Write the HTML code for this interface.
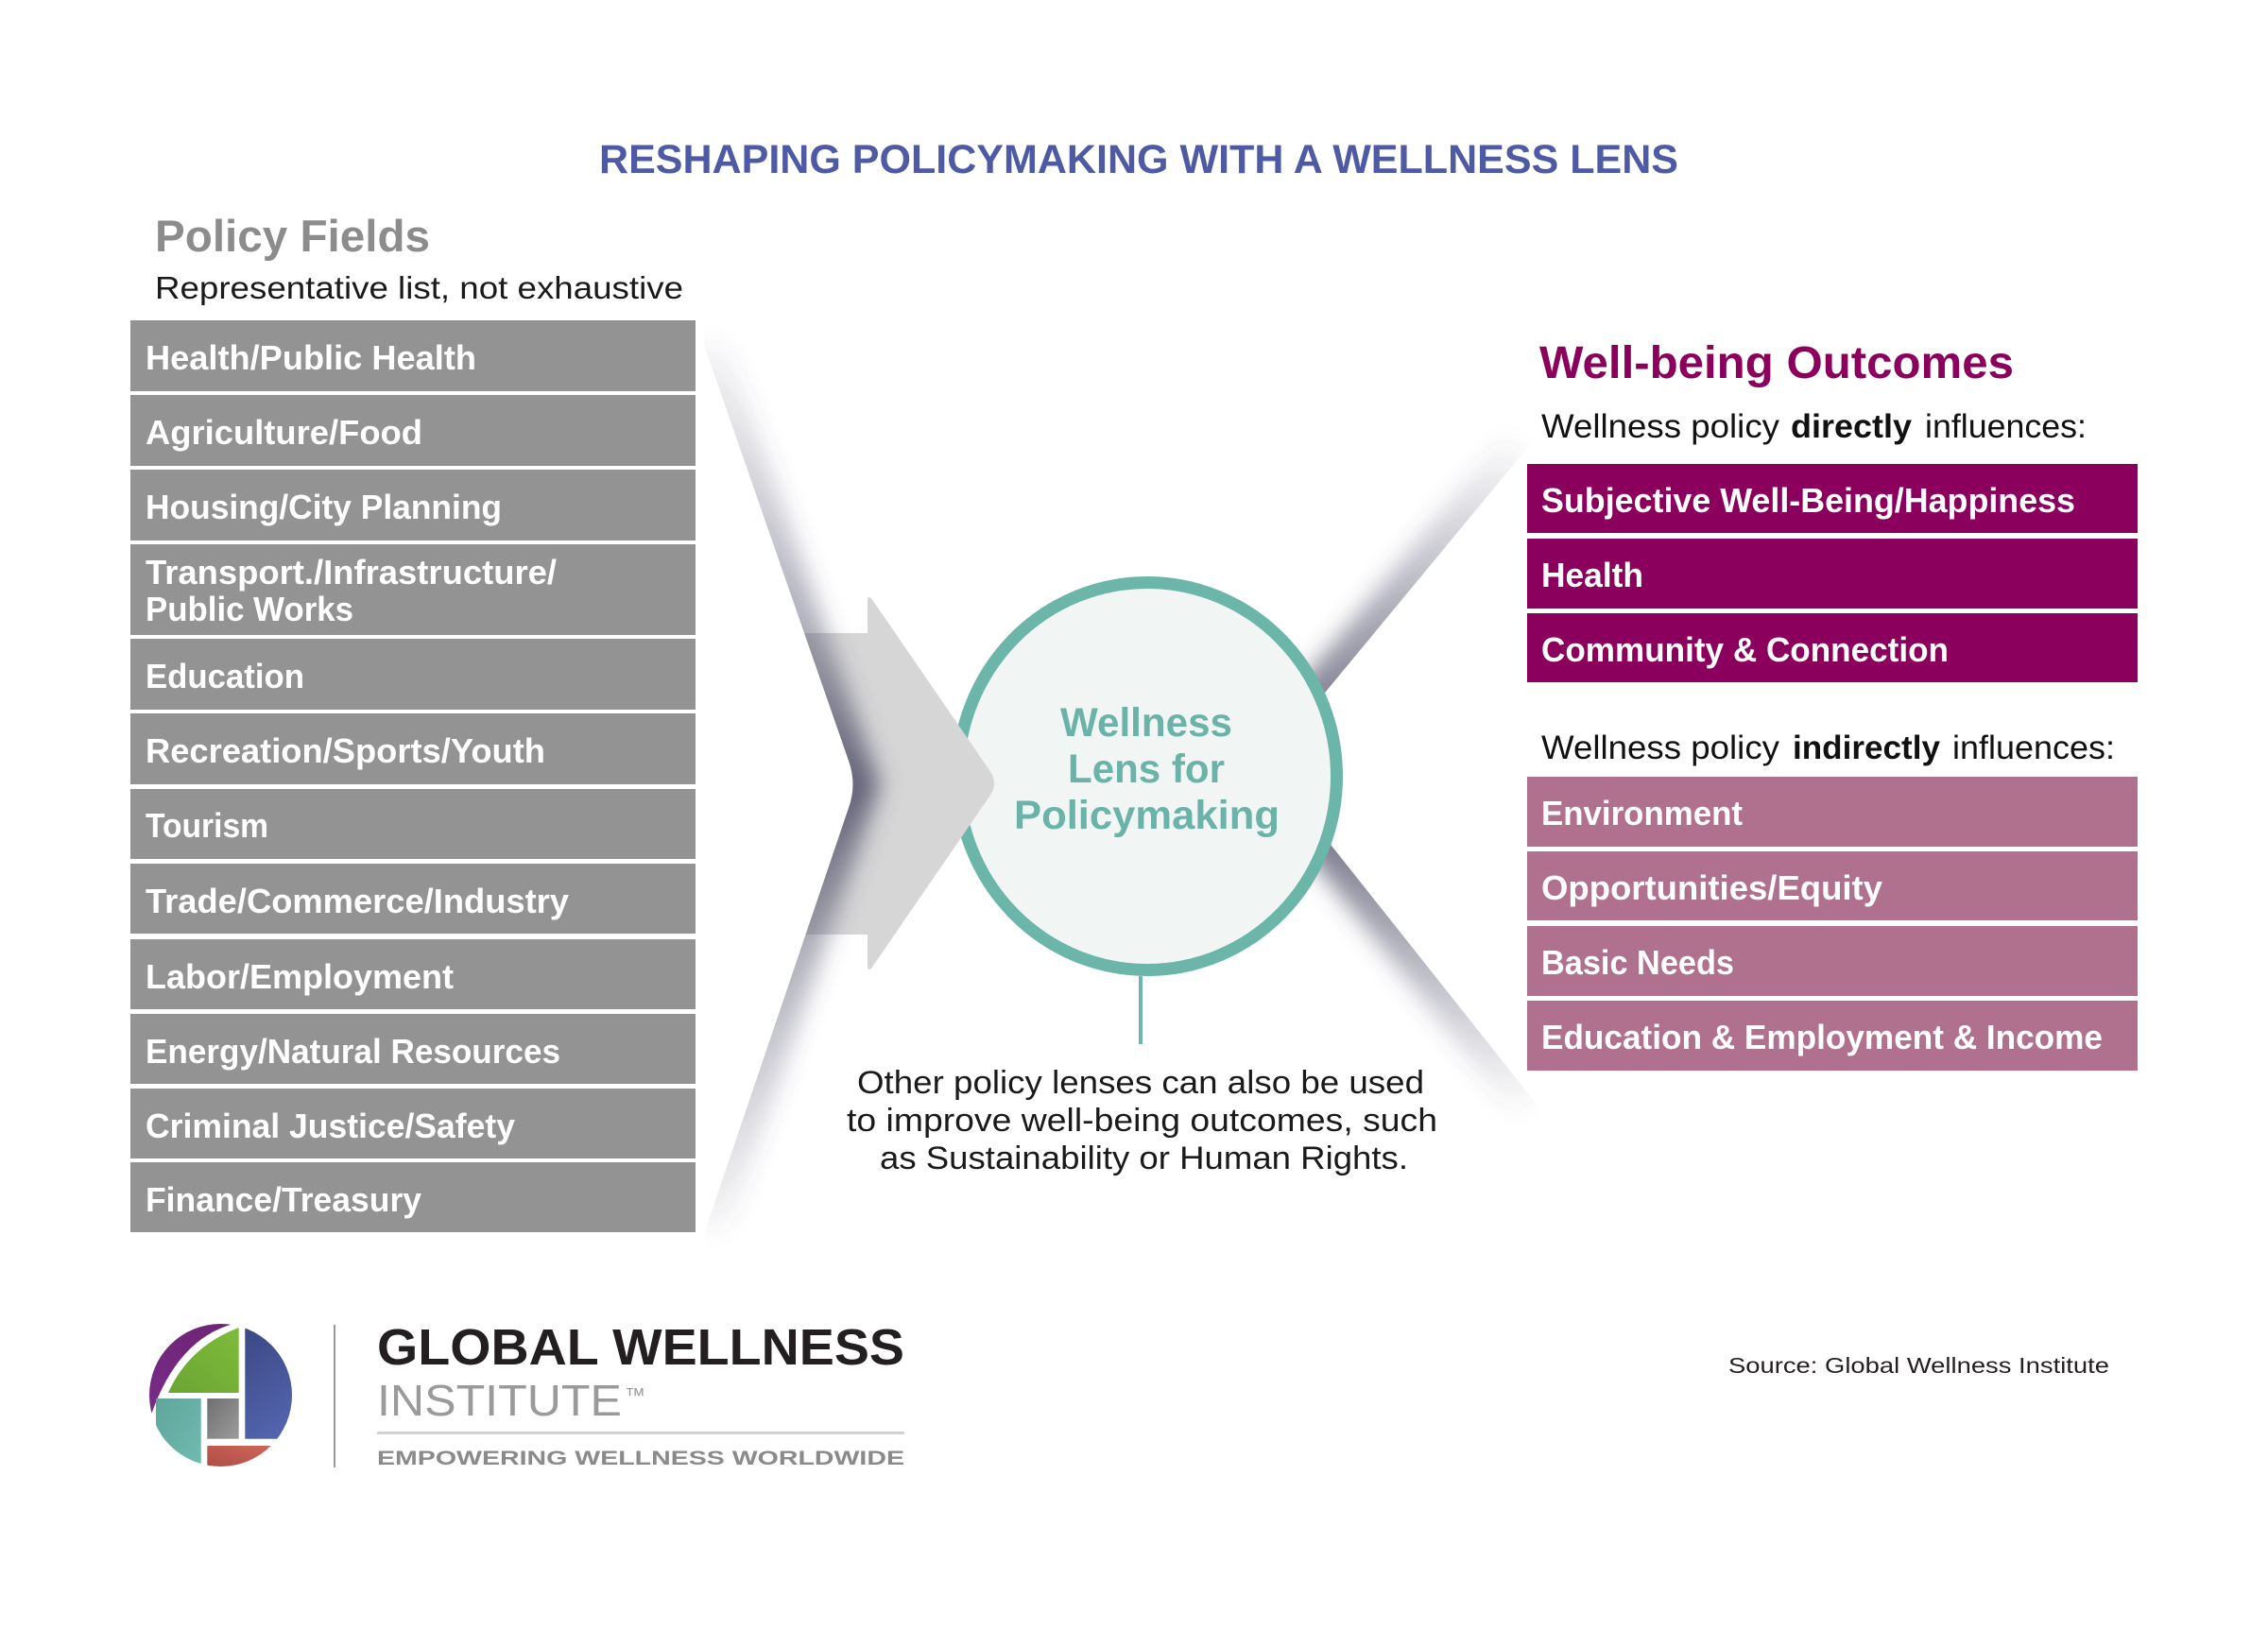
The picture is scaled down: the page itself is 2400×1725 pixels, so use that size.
<!DOCTYPE html>
<html>
<head>
<meta charset="utf-8">
<style>
html,body{margin:0;padding:0;background:#fff;}
svg{display:block;}
text{font-family:"Liberation Sans",Arial,sans-serif;}
</style>
</head>
<body>
<svg width="2400" height="1725" viewBox="0 0 2400 1725" xmlns="http://www.w3.org/2000/svg">
<defs>
  <filter id="blur" x="-50%" y="-20%" width="200%" height="140%">
    <feGaussianBlur stdDeviation="12"/>
  </filter>
  <linearGradient id="gL" gradientUnits="userSpaceOnUse" x1="0" y1="365" x2="0" y2="1300">
    <stop offset="0" stop-color="#50506a" stop-opacity="0.05"/>
    <stop offset="0.35" stop-color="#50506a" stop-opacity="0.5"/>
    <stop offset="0.5" stop-color="#50506a" stop-opacity="0.85"/>
    <stop offset="0.65" stop-color="#50506a" stop-opacity="0.5"/>
    <stop offset="1" stop-color="#50506a" stop-opacity="0.05"/>
  </linearGradient>
  <linearGradient id="gRU" gradientUnits="userSpaceOnUse" x1="1613" y1="478" x2="1380" y2="760">
    <stop offset="0" stop-color="#50506a" stop-opacity="0.03"/>
    <stop offset="1" stop-color="#50506a" stop-opacity="0.75"/>
  </linearGradient>
  <linearGradient id="gRL" gradientUnits="userSpaceOnUse" x1="1622" y1="1163" x2="1400" y2="885">
    <stop offset="0" stop-color="#50506a" stop-opacity="0.03"/>
    <stop offset="1" stop-color="#50506a" stop-opacity="0.75"/>
  </linearGradient>
  <clipPath id="clipL">
    <path d="M745,330 L745,365 L898,805 Q907,830 898,855 L747,1300 L747,1340 L1120,1340 L1120,330 Z"/>
  </clipPath>
  <clipPath id="clipR">
    <path d="M1651,432 L1340,808 L1659,1210 L1200,1210 L1200,432 Z"/>
  </clipPath>
  <clipPath id="logoClip">
    <ellipse cx="233.5" cy="1476.5" rx="75.5" ry="75.5"/>
  </clipPath>
  <linearGradient id="blueG" x1="0" y1="0" x2="0.4" y2="1">
    <stop offset="0" stop-color="#3a4680"/>
    <stop offset="1" stop-color="#5364ad"/>
  </linearGradient>
  <linearGradient id="greenG" x1="1" y1="0" x2="0" y2="1">
    <stop offset="0" stop-color="#7fbb3a"/>
    <stop offset="1" stop-color="#6aa534"/>
  </linearGradient>
  <linearGradient id="purpG" x1="0" y1="1" x2="1" y2="0">
    <stop offset="0" stop-color="#7a2b8a"/>
    <stop offset="1" stop-color="#6a2470"/>
  </linearGradient>
  <linearGradient id="grayG" x1="0" y1="0" x2="1" y2="1">
    <stop offset="0" stop-color="#6f6f6f"/>
    <stop offset="1" stop-color="#9c9c9c"/>
  </linearGradient>
  <linearGradient id="tealG" x1="0" y1="0" x2="1" y2="1">
    <stop offset="0" stop-color="#5fa59c"/>
    <stop offset="1" stop-color="#72bcb0"/>
  </linearGradient>
  <linearGradient id="coralG" x1="0" y1="1" x2="1" y2="0">
    <stop offset="0" stop-color="#a84a45"/>
    <stop offset="1" stop-color="#d6695b"/>
  </linearGradient>
</defs>

<!-- Title -->
<text x="634" y="183" font-size="43" font-weight="bold" fill="#4e5ba4" textLength="1142" lengthAdjust="spacingAndGlyphs">RESHAPING POLICYMAKING WITH A WELLNESS LENS</text>

<!-- Policy fields heading -->
<text x="164" y="266" font-size="47" font-weight="bold" fill="#8c8c8c" textLength="291" lengthAdjust="spacingAndGlyphs">Policy Fields</text>
<text x="164" y="316" font-size="33" fill="#1a1a1a" textLength="559" lengthAdjust="spacingAndGlyphs">Representative list, not exhaustive</text>

<!-- Right shadows -->
<g clip-path="url(#clipR)">
  <polygon points="1593,461 1320,791 1363,827 1636,497" fill="url(#gRU)" filter="url(#blur)"/>
  <polygon points="1320,824 1602,1179 1646,1144 1364,789" fill="url(#gRL)" filter="url(#blur)"/>
</g>

<!-- Circle -->
<ellipse cx="1214" cy="821.5" rx="200.5" ry="205" fill="#f1f6f4" stroke="#6bb5a9" stroke-width="13"/>
<rect x="1205" y="1033" width="4" height="72" fill="#6bb5a9"/>

<!-- Arrow + left shadow -->
<g clip-path="url(#clipL)">
  <path d="M780,670 L918,670 L918,637 Q918,627 924,636 L1047,815 Q1057,829 1047,843 L924,1022 Q918,1031 918,1021 L918,989 L780,989 Z" fill="#d6d6d6"/>
  <polygon points="713,365 875,830 715,1300 771,1300 931,830 769,365" fill="url(#gL)" filter="url(#blur)"/>
</g>

<!-- Circle text -->
<text x="1122" y="779" font-size="43" font-weight="bold" fill="#6bb3a8" textLength="182" lengthAdjust="spacingAndGlyphs">Wellness</text>
<text x="1130" y="828" font-size="43" font-weight="bold" fill="#6bb3a8" textLength="166" lengthAdjust="spacingAndGlyphs">Lens for</text>
<text x="1073" y="877" font-size="43" font-weight="bold" fill="#6bb3a8" textLength="281" lengthAdjust="spacingAndGlyphs">Policymaking</text>

<!-- Other lenses text -->
<text x="907" y="1157" font-size="34" fill="#1a1a1a" textLength="600" lengthAdjust="spacingAndGlyphs">Other policy lenses can also be used</text>
<text x="896" y="1197" font-size="34" fill="#1a1a1a" textLength="625" lengthAdjust="spacingAndGlyphs">to improve well-being outcomes, such</text>
<text x="931" y="1237" font-size="34" fill="#1a1a1a" textLength="559" lengthAdjust="spacingAndGlyphs">as Sustainability or Human Rights.</text>

<!-- Left boxes -->
<g fill="#939393">
  <rect x="138" y="339" width="598" height="75"/>
  <rect x="138" y="418" width="598" height="75"/>
  <rect x="138" y="497" width="598" height="75"/>
  <rect x="138" y="576" width="598" height="96"/>
  <rect x="138" y="676" width="598" height="75"/>
  <rect x="138" y="755" width="598" height="75"/>
  <rect x="138" y="835" width="598" height="74"/>
  <rect x="138" y="914" width="598" height="74"/>
  <rect x="138" y="994" width="598" height="74"/>
  <rect x="138" y="1073" width="598" height="74"/>
  <rect x="138" y="1152" width="598" height="74"/>
  <rect x="138" y="1230" width="598" height="74"/>
</g>
<g fill="#ffffff" font-size="36" font-weight="bold">
  <text x="154" y="391" textLength="350" lengthAdjust="spacingAndGlyphs">Health/Public Health</text>
  <text x="154" y="470" textLength="293" lengthAdjust="spacingAndGlyphs">Agriculture/Food</text>
  <text x="154" y="549" textLength="377" lengthAdjust="spacingAndGlyphs">Housing/City Planning</text>
  <text x="154" y="618" textLength="435" lengthAdjust="spacingAndGlyphs">Transport./Infrastructure/</text>
  <text x="154" y="657" textLength="220" lengthAdjust="spacingAndGlyphs">Public Works</text>
  <text x="154" y="728" textLength="168" lengthAdjust="spacingAndGlyphs">Education</text>
  <text x="154" y="807" textLength="423" lengthAdjust="spacingAndGlyphs">Recreation/Sports/Youth</text>
  <text x="154" y="886" textLength="130" lengthAdjust="spacingAndGlyphs">Tourism</text>
  <text x="154" y="966" textLength="448" lengthAdjust="spacingAndGlyphs">Trade/Commerce/Industry</text>
  <text x="154" y="1046" textLength="326" lengthAdjust="spacingAndGlyphs">Labor/Employment</text>
  <text x="154" y="1125" textLength="439" lengthAdjust="spacingAndGlyphs">Energy/Natural Resources</text>
  <text x="154" y="1204" textLength="391" lengthAdjust="spacingAndGlyphs">Criminal Justice/Safety</text>
  <text x="154" y="1282" textLength="292" lengthAdjust="spacingAndGlyphs">Finance/Treasury</text>
</g>

<!-- Right heading -->
<text x="1629" y="400" font-size="48" font-weight="bold" fill="#8b005d" textLength="502" lengthAdjust="spacingAndGlyphs">Well-being Outcomes</text>
<g font-size="35" fill="#111">
  <text x="1631" y="463" textLength="252" lengthAdjust="spacingAndGlyphs">Wellness policy</text>
  <text x="1895" y="463" font-weight="bold" textLength="128" lengthAdjust="spacingAndGlyphs">directly</text>
  <text x="2037" y="463" textLength="171" lengthAdjust="spacingAndGlyphs">influences:</text>
  <text x="1631" y="803" textLength="252" lengthAdjust="spacingAndGlyphs">Wellness policy</text>
  <text x="1897" y="803" font-weight="bold" textLength="156" lengthAdjust="spacingAndGlyphs">indirectly</text>
  <text x="2066" y="803" textLength="172" lengthAdjust="spacingAndGlyphs">influences:</text>
</g>

<!-- Right boxes -->
<g fill="#8b005d">
  <rect x="1616" y="491" width="646" height="73"/>
  <rect x="1616" y="570" width="646" height="74"/>
  <rect x="1616" y="649" width="646" height="73"/>
</g>
<g fill="#b0718f">
  <rect x="1616" y="822" width="646" height="74"/>
  <rect x="1616" y="901" width="646" height="73"/>
  <rect x="1616" y="980" width="646" height="74"/>
  <rect x="1616" y="1059" width="646" height="74"/>
</g>
<g fill="#ffffff" font-size="36" font-weight="bold">
  <text x="1631" y="542" textLength="565" lengthAdjust="spacingAndGlyphs">Subjective Well-Being/Happiness</text>
  <text x="1631" y="621" textLength="108" lengthAdjust="spacingAndGlyphs">Health</text>
  <text x="1631" y="700" textLength="431" lengthAdjust="spacingAndGlyphs">Community &amp; Connection</text>
  <text x="1631" y="873" textLength="213" lengthAdjust="spacingAndGlyphs">Environment</text>
  <text x="1631" y="952" textLength="361" lengthAdjust="spacingAndGlyphs">Opportunities/Equity</text>
  <text x="1631" y="1031" textLength="204" lengthAdjust="spacingAndGlyphs">Basic Needs</text>
  <text x="1631" y="1110" textLength="594" lengthAdjust="spacingAndGlyphs">Education &amp; Employment &amp; Income</text>
</g>

<!-- Logo -->
<g clip-path="url(#logoClip)">
  <path d="M247,1401 Q188,1417 160,1497 L140,1497 L140,1380 L247,1380 Z" fill="url(#purpG)"/>
  <path d="M252.7,1405 L252.7,1474 L178,1474 Q200,1425 252.7,1405 Z" fill="url(#greenG)"/>
  <rect x="259.3" y="1395" width="70" height="127.7" fill="url(#blueG)"/>
  <rect x="165" y="1480" width="47.7" height="80" fill="url(#tealG)"/>
  <rect x="219.3" y="1480" width="33.4" height="42.7" fill="url(#grayG)"/>
  <rect x="219.3" y="1530" width="90" height="30" fill="url(#coralG)"/>
</g>
<rect x="353" y="1402" width="2" height="151" fill="#9a9a9a"/>
<text x="399" y="1444" font-size="54" font-weight="bold" fill="#231f20" textLength="558" lengthAdjust="spacingAndGlyphs">GLOBAL WELLNESS</text>
<text x="399" y="1498" font-size="46" fill="#9a9a9a" textLength="259" lengthAdjust="spacingAndGlyphs">INSTITUTE</text>
<text x="661" y="1484" font-size="22" fill="#9a9a9a">™</text>
<rect x="399" y="1515" width="558" height="3" fill="#d2d2d2"/>
<text x="399" y="1550" font-size="21.5" font-weight="bold" fill="#8a8a8a" textLength="558" lengthAdjust="spacingAndGlyphs">EMPOWERING WELLNESS WORLDWIDE</text>

<!-- Source -->
<text x="1829" y="1453" font-size="23" fill="#231f20" textLength="403" lengthAdjust="spacingAndGlyphs">Source: Global Wellness Institute</text>
</svg>
</body>
</html>
